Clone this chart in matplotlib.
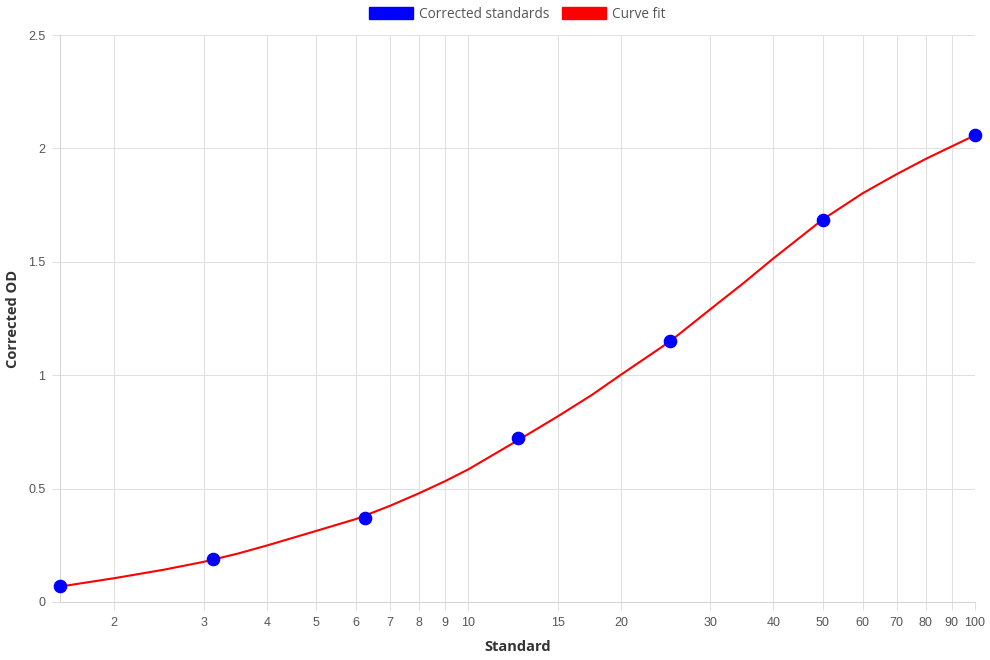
import matplotlib
matplotlib.use("Agg")
import matplotlib.pyplot as plt
from matplotlib.patches import Patch

# standards (x) and their corrected OD
std_x = [1.5625, 3.125, 6.25, 12.5, 25, 50, 100]
std_od = [0.071, 0.188, 0.372, 0.722, 1.149, 1.686, 2.058]

# curve fit
fit_x = [1.5625, 2, 2.5, 3, 3.5, 4, 5, 6, 7, 8, 9, 10, 12.5, 15, 17.5, 20, 25, 30, 35,
         40, 45, 50, 60, 70, 80, 90, 100]
fit_od = [0.068, 0.105, 0.142, 0.177, 0.213, 0.249, 0.313, 0.366, 0.424, 0.48, 0.533,
          0.585, 0.712, 0.818, 0.912, 1.002, 1.149, 1.29, 1.408, 1.515, 1.605, 1.686,
          1.802, 1.886, 1.954, 2.009, 2.058]

x_ticks = [2, 3, 4, 5, 6, 7, 8, 9, 10, 15, 20, 30, 40, 50, 60, 70, 80, 90, 100]
y_ticks = [0, 0.5, 1, 1.5, 2, 2.5]
y_labels = ["0", "0.5", "1", "1.5", "2", "2.5"]

grid_c = "#e0e0e0"
text_c = "#555555"
title_font = "Open Sans"
tick_font = "Liberation Sans"

fig = plt.figure(figsize=(9.9, 6.6), dpi=100)
ax = fig.add_axes([60 / 990, 1 - 602 / 660, 915 / 990, 567 / 660])

ax.plot(fit_x, fit_od, color="red", lw=1.5, zorder=3, clip_on=False,
        solid_joinstyle="round")
ax.plot(std_x, std_od, "o", color="blue", ms=8.8, zorder=4, clip_on=False)

ax.set_xscale("log")
ax.set_xlim(std_x[0], 100)
ax.set_ylim(0, 2.5)
ax.set_xticks(x_ticks)
ax.set_xticklabels([str(t) for t in x_ticks])
ax.xaxis.set_minor_locator(matplotlib.ticker.NullLocator())
ax.set_yticks(y_ticks)
ax.set_yticklabels(y_labels)

ax.grid(True, color=grid_c, lw=0.75)
ax.set_axisbelow(True)
for s in ["top", "right"]:
    ax.spines[s].set_visible(False)
for s in ["left", "bottom"]:
    ax.spines[s].set_color("#d4d4d4")
    ax.spines[s].set_linewidth(0.75)

ax.tick_params(axis="both", length=6, width=0.75, color=grid_c, labelcolor=text_c,
               labelsize=9, pad=4.5)
for lbl in ax.get_xticklabels() + ax.get_yticklabels():
    lbl.set_fontfamily(tick_font)

ax.set_xlabel("Standard", fontfamily=title_font, fontweight="bold", fontsize=10.5,
              color="#333333", labelpad=8)
fig.text(13 / 990, 1 - 318.5 / 660, "Corrected OD", rotation=90, ha="center", va="center",
         fontfamily=title_font, fontweight="bold", fontsize=10.5, color="#333333")

handles = [Patch(facecolor="blue", edgecolor="blue", label="Corrected standards"),
           Patch(facecolor="red", edgecolor="red", label="Curve fit")]
leg = ax.legend(handles=handles, loc="lower center", bbox_to_anchor=(0.5, 1.0), ncol=2,
                frameon=False, handlelength=3.2, handleheight=1.0, handletextpad=0.5,
                columnspacing=0.9, borderaxespad=0.55,
                prop={"family": title_font, "size": 9.8})
for t in leg.get_texts():
    t.set_color(text_c)

fig.savefig("out.png", dpi=100)
